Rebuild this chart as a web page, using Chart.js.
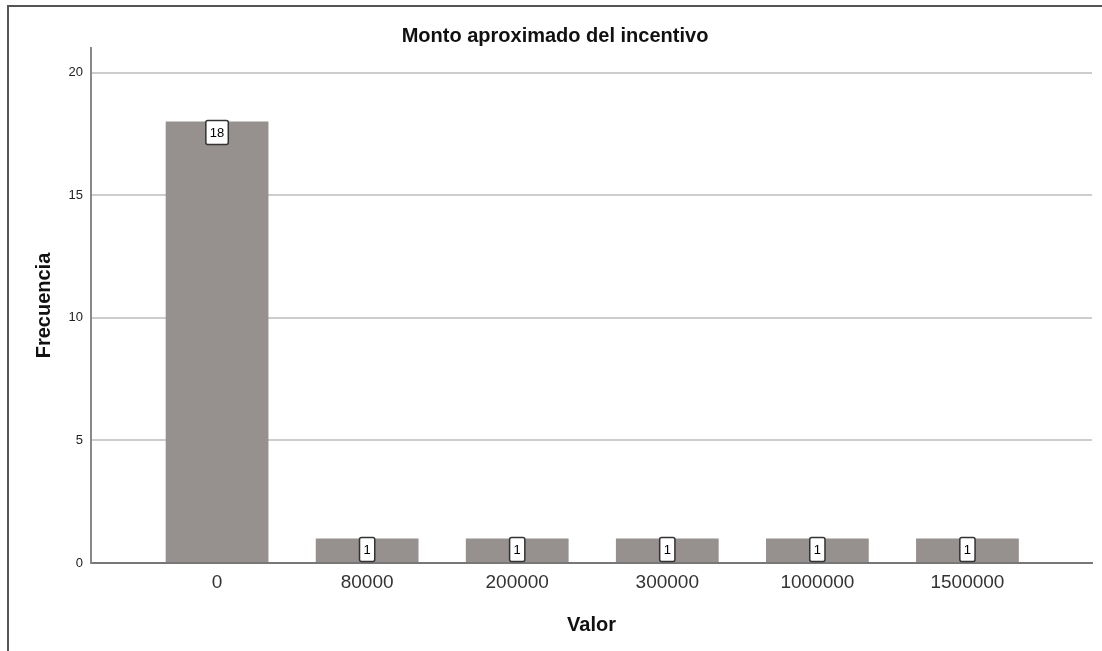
<!DOCTYPE html>
<html>
<head>
<meta charset="utf-8">
<script src="https://cdn.jsdelivr.net/npm/chart.js@4/dist/chart.umd.min.js"></script>
<style>
body{margin:0;background:#fff;}
#wrap{width:1102px;height:651px;position:relative;}
</style>
</head>
<body>
<div id="wrap"><canvas id="freqChart" width="1102" height="651"></canvas></div>
<script>
const categories = ["0","80000","200000","300000","1000000","1500000"];
const counts = [18,1,1,1,1,1];
const yTicks = [0,5,10,15,20];

const FONT = "'Liberation Sans', Arial, sans-serif";

// frame lines + chart title
const frame = {
  id:"frame",
  beforeDraw(chart){
    const c = chart.ctx;
    c.save();
    c.strokeStyle = "#555";
    c.lineWidth = 2;
    c.beginPath();
    c.moveTo(1102,6); c.lineTo(8,6); c.lineTo(8,651);
    c.stroke();
    c.fillStyle = "#111";
    c.font = "bold 20px " + FONT;
    c.textAlign = "center";
    c.textBaseline = "middle";
    c.fillText("Monto aproximado del incentivo", 555, 36);
    c.restore();
  }
};

// boxed value label at the top of each bar
const valueBoxes = {
  id:"valueBoxes",
  afterDatasetsDraw(chart){
    const c = chart.ctx;
    const meta = chart.getDatasetMeta(0);
    c.save();
    c.font = "13px " + FONT;
    c.textAlign = "center";
    c.textBaseline = "middle";
    meta.data.forEach((bar,i)=>{
      const txt = String(counts[i]);
      const w = c.measureText(txt).width + 8;
      const h = 24;
      const x = bar.x - w/2, y = bar.y - 1;
      c.fillStyle = "#fff";
      c.strokeStyle = "#333";
      c.lineWidth = 1.5;
      c.beginPath();
      c.roundRect(x, y, w, h, 2);
      c.fill();
      c.stroke();
      c.fillStyle = "#000";
      c.fillText(txt, bar.x, y + h/2 + 1);
    });
    c.restore();
  }
};

new Chart(document.getElementById("freqChart"),{
  type:"bar",
  data:{
    datasets:[{
      data:counts.map((v,i)=>({x:i,y:v})),
      backgroundColor:"#96908e",
      categoryPercentage:1,
      barPercentage:0.825
    }]
  },
  options:{
    responsive:false,
    animation:false,
    layout:{padding:{top:48,right:10,left:0,bottom:0}},
    plugins:{legend:{display:false},tooltip:{enabled:false}},
    scales:{
      x:{
        type:"linear",
        offset:false,
        min:-0.84,
        max:5.83,
        grid:{display:false,drawTicks:false,offset:false},
        border:{color:"#777",width:2},
        ticks:{
          stepSize:1,
          autoSkip:false,
          maxRotation:0,
          padding:8,
          color:"#333",
          font:{family:FONT,size:19},
          callback:v=>(Number.isInteger(v) && v>=0 && v<categories.length) ? categories[v] : ""
        },
        title:{display:true,text:"Valor",color:"#111",font:{family:FONT,size:20,weight:"bold"},padding:{top:0,bottom:14}},
        afterFit(s){ s.height = 88; }
      },
      y:{
        min:0,
        max:21,
        grid:{color:"#cdcdcd",lineWidth:2,drawTicks:false},
        border:{color:"#888",width:2},
        ticks:{
          stepSize:5,
          includeBounds:false,
          padding:8,
          color:"#222",
          font:{family:FONT,size:13},
          callback:v=>yTicks.includes(v) ? String(v) : ""
        },
        title:{display:true,text:"Frecuencia",color:"#111",font:{family:FONT,size:20,weight:"bold"},padding:{top:32,bottom:0}},
        afterFit(s){ s.width = 91; }
      }
    }
  },
  plugins:[frame,valueBoxes]
});
</script>
</body>
</html>
